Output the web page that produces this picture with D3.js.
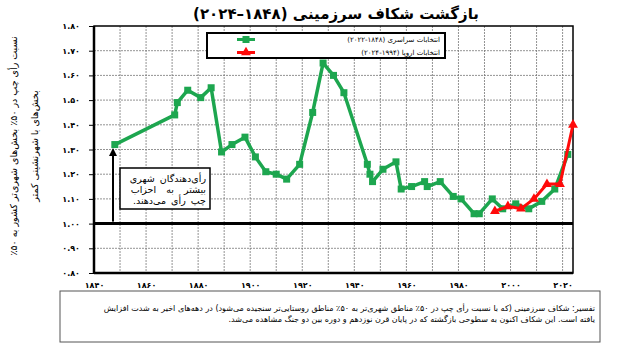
<!DOCTYPE html>
<html>
<head>
<meta charset="utf-8">
<script src="https://cdn.jsdelivr.net/npm/d3@7"></script>
<style>
  body { margin: 0; background: #fff; }
  text { font-family: "DejaVu Sans", sans-serif; }
</style>
</head>
<body>
<div id="canvas"></div>
<script>
// Data

let natYears = [1848, 1871, 1872, 1876, 1881, 1885, 1889, 1893, 1898, 1902, 1906, 1910, 1914, 1919,
    1924, 1928, 1932, 1936, 1945, 1946, 1947, 1951, 1956, 1958, 1962, 1967, 1968, 1973, 1978, 1981,
    1986, 1988, 1993, 1997, 2002, 2007, 2012, 2017, 2022];
let natValues = [1.32, 1.44, 1.49, 1.54, 1.51, 1.55, 1.29, 1.32, 1.35, 1.27, 1.21, 1.20, 1.18, 1.24,
    1.45, 1.65, 1.60, 1.53, 1.24, 1.20, 1.17, 1.22, 1.25, 1.14, 1.15, 1.17, 1.15, 1.17, 1.11, 1.10,
    1.04, 1.04, 1.10, 1.06, 1.08, 1.06, 1.09, 1.14, 1.28];

let euroYears = [1994, 1999, 2004, 2009, 2014, 2019, 2024];
let euroValues = [1.05, 1.07, 1.06, 1.10, 1.16, 1.16, 1.40];

let xTicks = [1840, 1860, 1880, 1900, 1920, 1940, 1960, 1980, 2000, 2020];
let yTicks = [0.8, 0.9, 1.0, 1.1, 1.2, 1.3, 1.4, 1.5, 1.6, 1.7, 1.8];

let title = "بازگشت شکاف سرزمینی (۱۸۴۸–۲۰۲۴)";
let ylab = ["نسبت رأی چپ در ۵۰٪ بخش‌های شهری‌تر کشور به ۵۰٪", "بخش‌های با شهرنشینی کمتر"];
let legendLabels = ["انتخابات سراسری (۱۸۴۸-۲۰۲۲)", "انتخابات اروپا (۱۹۹۴-۲۰۲۴)"];
let noteLines = ["رأی‌دهندگان شهری", "بیشتر به احزاب", "چپ رأی می‌دهند."];
let footLines = [
    "تفسیر: شکاف سرزمینی (که با نسبت رأی چپ در ۵۰٪ مناطق شهری‌تر به ۵۰٪ مناطق روستایی‌تر سنجیده می‌شود) در دهه‌های اخیر به شدت افزایش",
    "یافته است. این شکاف اکنون به سطوحی بازگشته که در پایان قرن نوزدهم و دوره بین دو جنگ مشاهده می‌شد."
];

// Helpers

let fa = (s) => String(s).replace(/\d/g, (d) => "۰۱۲۳۴۵۶۷۸۹"[+d]);
let green = "#1da64f";
let red = "#ff0a0a";

// Setting dimensions

let W = 623, H = 351;
let margin = {top: 26, right: 50, bottom: 78, left: 94};
let width = W - margin.left - margin.right;
let height = H - margin.top - margin.bottom;

let svg = d3.select("#canvas")
    .append("svg")
    .attr("width", W)
    .attr("height", H);

let g = svg.append("g")
    .attr("transform", "translate(" + margin.left + ", " + margin.top + ")");

// Scales

let xScale = d3.scaleLinear().domain([1840, 2024]).range([0, width]);
let yScale = d3.scaleLinear().domain([0.8, 1.8]).range([height, 0]);

// Grid

g.append("g")
    .selectAll("line")
    .data(d3.range(1850, 2021, 10))
    .join("line")
    .attr("x1", (d) => xScale(d)).attr("x2", (d) => xScale(d))
    .attr("y1", 0).attr("y2", height)
    .style("stroke", "#777")
    .style("stroke-width", 0.8)
    .style("stroke-dasharray", "2,1");

g.append("g")
    .selectAll("line")
    .data(yTicks.slice(1, -1))
    .join("line")
    .attr("x1", 0).attr("x2", width)
    .attr("y1", (d) => yScale(d)).attr("y2", (d) => yScale(d))
    .style("stroke", "#777")
    .style("stroke-width", 0.8)
    .style("stroke-dasharray", "2,1");

// Axes

let yAxis = g.append("g")
    .call(d3.axisLeft(yScale).tickValues(yTicks).tickSize(5).tickSizeOuter(0)
        .tickFormat((d) => fa(d3.format(".2f")(d))));
yAxis.select(".domain").remove();
yAxis.selectAll("line").style("stroke", "#000");
yAxis.selectAll("text")
    .attr("x", -14)
    .style("font-size", "8px")
    .style("font-weight", "bold")
    .style("fill", "#000");

let xAxis = g.append("g")
    .attr("transform", "translate(0, " + height + ")")
    .call(d3.axisBottom(xScale).tickValues(xTicks).tickSize(0).tickFormat((d) => fa(d)));
xAxis.select(".domain").remove();
xAxis.selectAll("text")
    .attr("y", 9)
    .style("font-size", "8px")
    .style("font-weight", "bold")
    .style("fill", "#000");

// Frame and the 1.00 line

g.append("rect")
    .attr("width", width).attr("height", height)
    .style("fill", "none").style("stroke", "#000").style("stroke-width", 1.5);
g.append("line")
    .attr("x1", 0).attr("x2", 0).attr("y1", 0).attr("y2", height)
    .style("stroke", "#000").style("stroke-width", 2.5);
g.append("line")
    .attr("x1", 0).attr("x2", width).attr("y1", height).attr("y2", height)
    .style("stroke", "#000").style("stroke-width", 2.5);
g.append("line")
    .attr("x1", 0).attr("x2", width).attr("y1", yScale(1)).attr("y2", yScale(1))
    .style("stroke", "#000").style("stroke-width", 3);

// Series

let nat = natYears.map((y, i) => ({x: y, v: natValues[i]}));
let euro = euroYears.map((y, i) => ({x: y, v: euroValues[i]}));
let line = d3.line().x((d) => xScale(d.x)).y((d) => yScale(d.v));
let tri = d3.symbol().type(d3.symbolTriangle).size(42);

g.append("path").datum(nat)
    .attr("d", line)
    .style("fill", "none").style("stroke", green).style("stroke-width", 3.5)
    .style("stroke-linejoin", "round");
g.append("g").selectAll("rect").data(nat).join("rect")
    .attr("x", (d) => xScale(d.x) - 3.5).attr("y", (d) => yScale(d.v) - 3.5)
    .attr("width", 7).attr("height", 7)
    .style("fill", green);

g.append("path").datum(euro)
    .attr("d", line)
    .style("fill", "none").style("stroke", red).style("stroke-width", 3)
    .style("stroke-linejoin", "round");
g.append("g").selectAll("path").data(euro).join("path")
    .attr("d", tri)
    .attr("transform", (d) => "translate(" + xScale(d.x) + "," + yScale(d.v) + ")")
    .style("fill", red);

// Legend

let lg = svg.append("g").attr("transform", "translate(207, 33)");
lg.append("rect").attr("width", 238).attr("height", 25)
    .style("fill", "#fff").style("stroke", "#000").style("stroke-width", 2);
[0, 1].forEach((i) => {
    let ly = 6.5 + i * 13;
    lg.append("line").attr("x1", 30).attr("x2", 48).attr("y1", ly).attr("y2", ly)
        .style("stroke", i ? red : green).style("stroke-width", 3);
    if (i) {
        lg.append("path").attr("d", tri).attr("transform", "translate(39," + ly + ")").style("fill", red);
    } else {
        lg.append("rect").attr("x", 35.5).attr("y", ly - 3.5).attr("width", 7).attr("height", 7).style("fill", green);
    }
    lg.append("text")
        .attr("x", 233).attr("y", ly + 2.5)
        .attr("direction", "rtl")
        .style("text-anchor", "start")
        .style("font-size", "7px")
        .text(legendLabels[i]);
});

// Annotation with arrow

svg.append("defs").append("marker")
    .attr("id", "arrow").attr("viewBox", "0 0 10 10")
    .attr("refX", 5).attr("refY", 5)
    .attr("markerWidth", 4).attr("markerHeight", 4)
    .attr("orient", "auto")
    .append("path").attr("d", "M0,0 L10,5 L0,10 z").style("fill", "#000");

let ax = margin.left + xScale(1847.3);
svg.append("line")
    .attr("x1", ax).attr("x2", ax)
    .attr("y1", margin.top + yScale(1.0) - 2).attr("y2", margin.top + yScale(1.29))
    .style("stroke", "#000").style("stroke-width", 2)
    .attr("marker-end", "url(#arrow)");

svg.append("rect")
    .attr("x", 120).attr("y", 168).attr("width", 90).attr("height", 41)
    .style("fill", "#fff").style("stroke", "#000").style("stroke-width", 1.5);
noteLines.forEach((t, i) => {
    svg.append("text")
        .attr("x", 206).attr("y", 182 + i * 11)
        .attr("direction", "rtl")
        .style("text-anchor", "start")
        .style("font-size", "9.5px")
        .style("word-spacing", i == 1 ? "7px" : "2px")
        .text(t);
});

// Title and y label

svg.append("text")
    .attr("x", 336).attr("y", 19)
    .attr("direction", "rtl")
    .style("text-anchor", "middle")
    .style("font-size", "15px")
    .style("font-weight", "bold")
    .text(title);

ylab.forEach((t, i) => {
    let lx = 17 + i * 21, ly = 146;
    svg.append("text")
        .attr("x", lx).attr("y", ly)
        .attr("direction", "rtl")
        .attr("transform", "rotate(-90, " + lx + ", " + ly + ")")
        .style("text-anchor", "middle")
        .style("font-size", "9.5px")
        .text(t);
});

// Footnote

svg.append("rect")
    .attr("x", 60).attr("y", 291).attr("width", 540).attr("height", 51)
    .style("fill", "#fff").style("stroke", "#555").style("stroke-width", 1);
footLines.forEach((t, i) => {
    svg.append("text")
        .attr("x", 595).attr("y", 311 + i * 11)
        .attr("direction", "rtl")
        .style("text-anchor", "start")
        .style("font-size", "8px")
        .text(t);
});
</script>
</body>
</html>
